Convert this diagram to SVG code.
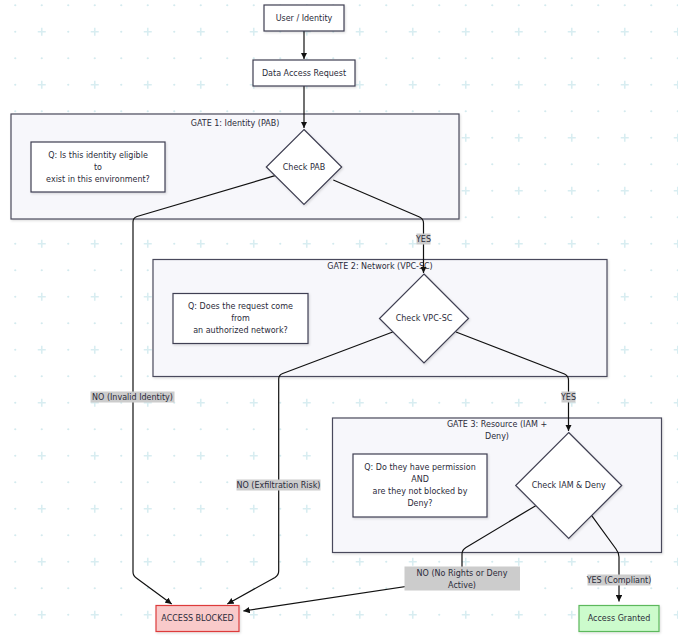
<svg xmlns="http://www.w3.org/2000/svg" width="678" height="639" viewBox="0 0 678 639">
<defs>
  <pattern id="bg" patternUnits="userSpaceOnUse" x="2" y="-8" width="53" height="53">
    <circle cx="13.25" cy="13.25" r="1.1" fill="#d3eaee"/>
    <circle cx="39.75" cy="13.25" r="1.1" fill="#d3eaee"/>
    <circle cx="13.25" cy="39.75" r="1.1" fill="#d3eaee"/>
    <path d="M35.75,39.75 H43.75 M39.75,35.75 V43.75" stroke="#d8edf1" stroke-width="1.6"/>
  </pattern>
  <filter id="sh" x="-10%" y="-10%" width="130%" height="140%">
    <feDropShadow dx="1" dy="1.2" stdDeviation="0.8" flood-color="#000" flood-opacity="0.14"/>
  </filter>
  <marker id="arr" viewBox="0 0 10 10" refX="10" refY="5" markerWidth="6.5" markerHeight="6.5" markerUnits="userSpaceOnUse" orient="auto">
    <path d="M0,0 L10,5 L0,10 z" fill="#111"/>
  </marker>
  <style>
    text { font-family: "DejaVu Sans", "Liberation Sans", sans-serif; font-size: 8px; fill: #2b2b3a; text-anchor: middle; dominant-baseline: central; }
    .cluster { fill: #f7f7fb; stroke: #4a4a5c; stroke-width: 1.2; filter: url(#sh); }
    .node { fill: #ffffff; stroke: #3f3f52; stroke-width: 1.2; filter: url(#sh); }
    .edge { fill: none; stroke: #111; stroke-width: 1.2; marker-end: url(#arr); }
    .lbl { fill: #cccccc; }
    .blocked { fill: #f9caca; stroke: #dd3b3b; stroke-width: 1.2; filter: url(#sh); }
    .granted { fill: #ccfbcc; stroke: #5cb85c; stroke-width: 1.2; filter: url(#sh); }
  </style>
</defs>
<rect width="678" height="639" fill="#ffffff"/>
<rect width="678" height="639" fill="url(#bg)"/>

<g id="clusters">
  <g id="gate1">
    <rect class="cluster" x="11" y="114" width="448" height="105"/>
    <text x="235" y="123">GATE 1: Identity (PAB)</text>
  </g>
  <g id="gate2">
    <rect class="cluster" x="153" y="259.5" width="454" height="117"/>
    <text x="380" y="266.5">GATE 2: Network (VPC-SC)</text>
  </g>
  <g id="gate3">
    <rect class="cluster" x="332.5" y="418" width="329" height="134.5"/>
    <text x="497" y="424">GATE 3: Resource (IAM +</text>
    <text x="497" y="436">Deny)</text>
  </g>
</g>

<g id="connectors">
  <path class="edge" d="M304,31 V59"/>
  <path class="edge" d="M304,86 V128"/>
  <path class="edge" d="M333.3,180 L419.5,217 Q423.5,219 423.5,223 V273"/>
  <path class="edge" d="M275,175.7 L137,216.5 Q133,218 133,222 V572 Q133,576 137,578.5 L171.7,604"/>
  <path class="edge" d="M456,332 L564.5,374 Q568.5,376 568.5,380 V431"/>
  <path class="edge" d="M392.7,332 L282.7,373.5 Q278.7,375 278.7,379 V571 Q278.7,575 275,577.5 L227.3,604"/>
  <path class="edge" d="M535.7,505.7 L466,547.5 Q462,550 462,554 V578 L243.3,611"/>
  <path class="edge" d="M591.7,515.7 L616,549 Q619,553 619,557 V601.5"/>
</g>

<g id="edge-labels">
  <g id="lbl-yes1">
    <rect class="lbl" x="416.5" y="233.5" width="14" height="11"/>
    <text x="423.5" y="239">YES</text>
  </g>
  <g id="lbl-yes2">
    <rect class="lbl" x="561.5" y="391.5" width="14" height="11"/>
    <text x="568.5" y="397">YES</text>
  </g>
  <g id="lbl-no1">
    <rect class="lbl" x="90.5" y="391.5" width="84" height="11"/>
    <text x="132.5" y="397">NO (Invalid Identity)</text>
  </g>
  <g id="lbl-no2">
    <rect class="lbl" x="236.5" y="479.5" width="84" height="11"/>
    <text x="278.5" y="485">NO (Exfiltration Risk)</text>
  </g>
  <g id="lbl-no3">
    <rect class="lbl" x="404.5" y="566.5" width="115.5" height="24"/>
    <text x="462" y="573">NO (No Rights or Deny</text>
    <text x="462" y="585">Active)</text>
  </g>
  <g id="lbl-yes3">
    <rect class="lbl" x="587.5" y="574.5" width="63" height="11"/>
    <text x="619" y="580">YES (Compliant)</text>
  </g>
</g>

<g id="user">
  <rect class="node" x="264" y="5" width="80" height="26"/>
  <text x="304" y="18">User / Identity</text>
</g>
<g id="request">
  <rect class="node" x="253" y="60" width="102" height="26"/>
  <text x="304" y="73">Data Access Request</text>
</g>
<g id="q1">
  <rect class="node" x="31" y="142" width="134" height="50"/>
  <text x="98" y="155">Q: Is this identity eligible</text>
  <text x="98" y="167">to</text>
  <text x="98" y="179">exist in this environment?</text>
</g>
<g id="checkPAB">
  <path class="node" d="M304,129.5 L341.7,167 L304,204.5 L266.3,167 Z"/>
  <text x="304" y="167">Check PAB</text>
</g>
<g id="q2">
  <rect class="node" x="173" y="293.5" width="135" height="50"/>
  <text x="240.5" y="306.5">Q: Does the request come</text>
  <text x="240.5" y="318.5">from</text>
  <text x="240.5" y="330.5">an authorized network?</text>
</g>
<g id="checkVPC">
  <path class="node" d="M424,274 L468.5,318.5 L424,363 L379.5,318.5 Z"/>
  <text x="424" y="318.5">Check VPC-SC</text>
</g>
<g id="q3">
  <rect class="node" x="353" y="454" width="134" height="63"/>
  <text x="420" y="467.5">Q: Do they have permission</text>
  <text x="420" y="479.5">AND</text>
  <text x="420" y="491.5">are they not blocked by</text>
  <text x="420" y="503.5">Deny?</text>
</g>
<g id="checkIAM">
  <path class="node" d="M568.7,432.5 L621.7,485.5 L568.7,538.5 L515.7,485.5 Z"/>
  <text x="568.7" y="485.5">Check IAM &amp; Deny</text>
</g>
<g id="blocked">
  <rect class="blocked" x="156" y="605.5" width="83" height="26"/>
  <text x="197.5" y="618.5">ACCESS BLOCKED</text>
</g>
<g id="granted">
  <rect class="granted" x="579" y="605.5" width="80" height="26"/>
  <text x="619" y="618.5">Access Granted</text>
</g>
</svg>
